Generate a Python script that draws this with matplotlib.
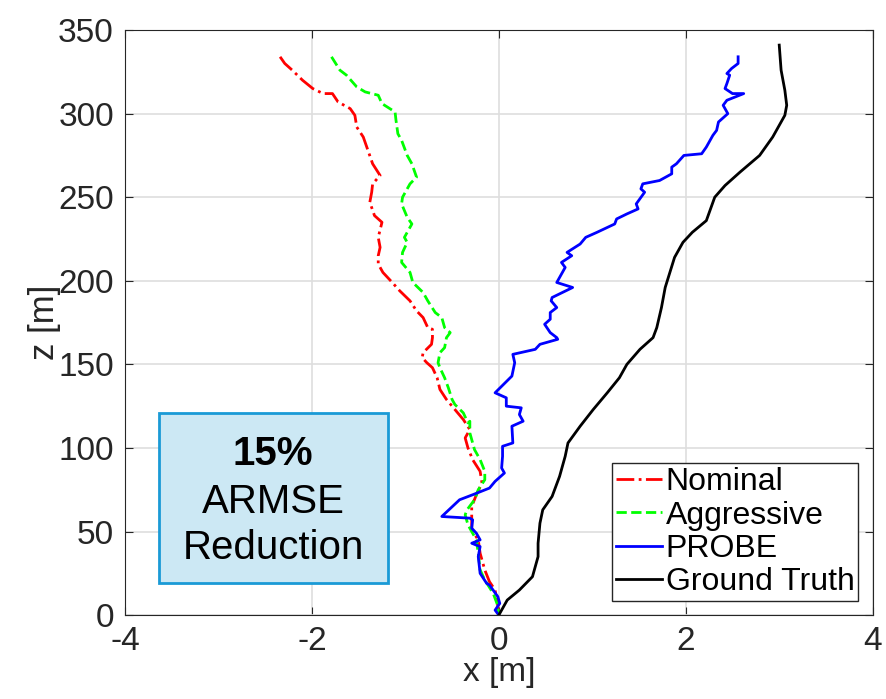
import matplotlib
matplotlib.use("Agg")
import matplotlib.pyplot as plt
from matplotlib.patches import Rectangle

plt.rcParams["font.family"] = ["Liberation Sans", "DejaVu Sans"]
plt.rcParams["axes.unicode_minus"] = False

# ground truth trajectory (x, z)
gt_x = [3.0, 3.02, 3.06, 3.08, 3.06, 2.93, 2.79, 2.58, 2.42, 2.31, 2.22, 2.07, 1.97,
        1.88, 1.83, 1.78, 1.74, 1.69, 1.65, 1.51, 1.37, 1.29, 1.16, 1.01, 0.87, 0.74,
        0.71, 0.65, 0.57, 0.47, 0.44, 0.42, 0.42, 0.36, 0.22, 0.09, 0.0]
gt_z = [341, 326, 314, 305, 299, 286, 275, 265, 257, 250, 236, 229, 223,
        214, 205, 196, 184, 172, 166, 159, 150, 142, 133, 123, 113, 103,
        95, 83, 71, 63, 55, 43, 35, 23, 15, 9, 0]

probe_x = [2.56, 2.56, 2.49, 2.44, 2.47, 2.44, 2.42, 2.50, 2.62, 2.44, 2.40, 2.45, 2.35,
           2.33, 2.29, 2.22, 2.17, 1.98, 1.90, 1.85, 1.85, 1.72, 1.54, 1.52, 1.56, 1.47,
           1.49, 1.37, 1.26, 1.24, 1.05, 0.93, 0.87, 0.73, 0.78, 0.67, 0.71, 0.62, 0.79,
           0.57, 0.56, 0.62, 0.55, 0.55, 0.49, 0.55, 0.62, 0.63, 0.44, 0.39, 0.15, 0.17,
           0.14, -0.04, 0.08, 0.08, 0.24, 0.22, 0.26, 0.14, 0.15, 0.04, 0.04, 0.03, 0.06,
           -0.04, -0.10, -0.28, -0.42, -0.61, -0.31, -0.28, -0.29, -0.24, -0.20, -0.29,
           -0.20, -0.22, -0.20, -0.13, -0.10, -0.01, 0.01, -0.04, 0.0]
probe_z = [334, 330, 327, 324, 323, 318, 315, 312, 312, 308, 305, 300, 295,
           290, 287, 280, 276, 275, 270, 268, 264, 260, 258, 255, 253, 246,
           243, 240, 237, 234, 229, 226, 222, 217, 215, 211, 208, 199, 196,
           190, 188, 184, 181, 177, 174, 169, 166, 165, 162, 159, 156, 151,
           143, 133, 130, 125, 124, 120, 116, 113, 103, 101, 95, 88, 85,
           80, 76, 72, 69, 59, 58, 57, 52, 49, 45, 43,
           41, 35, 25, 19, 18, 11, 7, 3, 0]

nominal_x = [-2.34, -2.29, -2.21, -2.10, -1.99, -1.88, -1.78, -1.72, -1.59, -1.54, -1.52,
             -1.45, -1.40, -1.35, -1.27, -1.35, -1.36, -1.38, -1.33, -1.25, -1.29, -1.27,
             -1.29, -1.29, -1.24, -1.14, -1.06, -0.95, -0.88, -0.81, -0.76, -0.71, -0.71,
             -0.72, -0.81, -0.82, -0.77, -0.71, -0.66, -0.63, -0.56, -0.47, -0.38, -0.31,
             -0.36, -0.33, -0.28, -0.20, -0.18, -0.24, -0.29, -0.29, -0.29, -0.22, -0.20,
             -0.15, -0.10, -0.04, -0.02, 0.0]
nominal_z = [334, 330, 326, 320, 315, 312, 312, 307, 303, 299, 292,
             286, 278, 270, 263, 258, 253, 247, 239, 235, 226, 220,
             215, 210, 205, 199, 194, 188, 182, 178, 172, 171, 166,
             162, 157, 154, 151, 148, 142, 135, 129, 123, 117, 111,
             106, 100, 93, 86, 79, 72, 65, 58, 51, 45, 37,
             27, 20, 15, 9, 1]

aggr_x = [-1.79, -1.70, -1.63, -1.52, -1.43, -1.29, -1.25, -1.11, -1.10, -1.08, -1.04,
          -0.98, -0.93, -0.88, -0.95, -1.03, -1.04, -0.98, -0.93, -1.01, -0.98, -1.03,
          -1.04, -0.95, -0.92, -0.81, -0.76, -0.68, -0.61, -0.58, -0.52, -0.56, -0.58,
          -0.63, -0.65, -0.63, -0.58, -0.54, -0.50, -0.47, -0.38, -0.33, -0.31, -0.31,
          -0.26, -0.20, -0.15, -0.15, -0.22, -0.26, -0.34, -0.36, -0.33, -0.29, -0.24,
          -0.22, -0.20, -0.15, -0.06, -0.02, 0.0]
aggr_z = [334, 326, 323, 316, 313, 311, 306, 301, 296, 288, 284,
          275, 270, 262, 258, 250, 246, 238, 234, 226, 223, 217,
          211, 205, 199, 193, 188, 181, 178, 172, 169, 166, 160,
          157, 151, 148, 142, 136, 129, 126, 121, 115, 116, 109,
          99, 93, 86, 81, 75, 69, 63, 60, 54, 50, 45,
          37, 27, 21, 13, 7, 1]

fig = plt.figure(figsize=(8.86, 6.99), dpi=100)
ax = fig.add_axes([0.141, 0.120, 0.844, 0.837])

ax.plot(nominal_x, nominal_z, color="#ff0000", ls="-.", lw=2, label="Nominal")
ax.plot(aggr_x, aggr_z, color="#00ff00", ls="--", lw=2, label="Aggressive")
ax.plot(probe_x, probe_z, color="#0000ff", ls="-", lw=2, label="PROBE")
ax.plot(gt_x, gt_z, color="black", ls="-", lw=2, label="Ground Truth")

ax.set_xlim(-4, 4)
ax.set_ylim(0, 350)
ax.set_xticks([-4, -2, 0, 2, 4])
ax.set_yticks(range(0, 351, 50))
ax.grid(True, color="#dedede", lw=1.2, zorder=0)
ax.set_axisbelow(True)
ax.tick_params(direction="in", top=True, right=True, labelsize=24,
               colors="#262626", length=6)
ax.tick_params(axis="y", pad=8)
ax.tick_params(axis="x", pad=8)
for s in ax.spines.values():
    s.set_color("#262626")
ax.set_xlabel("x [m]", fontsize=24, color="#262626", labelpad=0)
ax.set_ylabel("z [m]", fontsize=25, color="#262626", labelpad=-2)

# annotation box
ax.add_patch(Rectangle((-3.64, 19), 2.45, 102, facecolor="#cce8f4",
                       edgecolor="#1a9ad6", lw=2, zorder=4))
ax.text(-2.415, 90, "15%", ha="center", va="baseline", fontsize=29,
        fontweight="bold", zorder=5)
ax.text(-2.415, 61, "ARMSE", ha="center", va="baseline", fontsize=29, zorder=5)
ax.text(-2.415, 33.5, "Reduction", ha="center", va="baseline", fontsize=29, zorder=5)

leg = ax.legend(loc="lower right", fontsize=23, handlelength=1.45,
                handletextpad=0.1, labelspacing=0.1, borderpad=0.12,
                borderaxespad=0.45, fancybox=False, framealpha=1)
leg.get_frame().set_edgecolor("#262626")
leg.get_frame().set_linewidth(1)

fig.savefig("out.png", dpi=100)
